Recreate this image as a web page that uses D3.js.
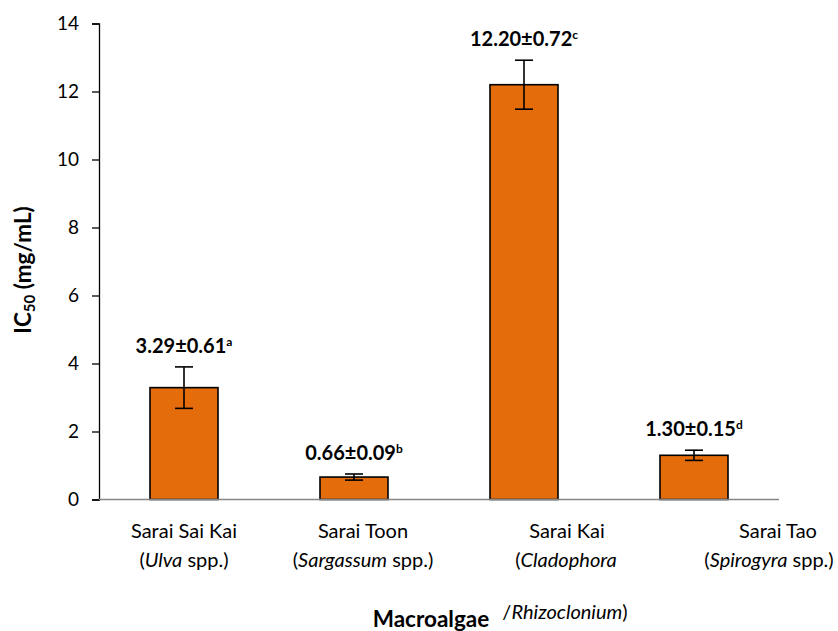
<!DOCTYPE html>
<html>
<head>
<meta charset="utf-8">
<script src="https://cdn.jsdelivr.net/npm/d3@7/dist/d3.min.js"></script>
<style>
  html, body { margin: 0; padding: 0; background: #fff; }
  svg { display: block; font-family: Lato, "Open Sans", sans-serif; }
</style>
</head>
<body>
<svg id="chart" width="838" height="631"></svg>
<script>
// IC50 of macroalgae extracts (mg/mL), mean ± SD
const categories = ["Sarai Sai Kai", "Sarai Toon", "Sarai Kai", "Sarai Tao"];
const ic50 = [3.29, 0.66, 12.20, 1.30];
const sd = [0.61, 0.09, 0.72, 0.15];
const letters = ["a", "b", "c", "d"];
// Second/third line of each category label: [text, italic?] segments
const speciesLines = [
  [[["(", false], ["Ulva", true], [" spp.)", false]]],
  [[["(", false], ["Sargassum", true], [" spp.)", false]]],
  [[["(", false], ["Cladophora", true]], [["/", false], ["Rhizoclonium", true], [")", false]]],
  [[["(", false], ["Spirogyra", true], [" spp.)", false]]]
];
const yTicks = [0, 2, 4, 6, 8, 10, 12, 14];

const svg = d3.select("#chart");
const plotLeft = 99, plotRight = 779, plotTop = 23.5, plotBottom = 499.5;

const x = d3.scaleBand().domain(categories).range([plotLeft, plotRight])
  .paddingInner(0.6).paddingOuter(0.3);
const y = d3.scaleLinear().domain([0, 14]).range([plotBottom, plotTop]);

// Label text boxes sit a little right of their bars
const labelNudge = [[0, 0], [9, 9], [43, 42, 41], [84, 75]];
const labelBaselines = [537.5, 566.5, 619];
const labelSize = 20;

// Bars
svg.append("g").selectAll("rect").data(ic50).join("rect")
  .attr("x", (d, i) => x(categories[i]))
  .attr("y", d => y(d))
  .attr("width", x.bandwidth())
  .attr("height", d => y(0) - y(d))
  .attr("fill", "#E46C0A")
  .attr("stroke", "#000")
  .attr("stroke-width", 1.6);

// Error bars
const err = svg.append("g").attr("stroke", "#000").attr("stroke-width", 1.6);
ic50.forEach((v, i) => {
  const cx = x(categories[i]) + x.bandwidth() / 2;
  const y1 = y(v + sd[i]), y2 = y(v - sd[i]);
  err.append("line").attr("x1", cx).attr("x2", cx).attr("y1", y1).attr("y2", y2);
  err.append("line").attr("x1", cx - 9).attr("x2", cx + 9).attr("y1", y1).attr("y2", y1);
  err.append("line").attr("x1", cx - 9).attr("x2", cx + 9).attr("y1", y2).attr("y2", y2);
});

// Value labels with significance letters
ic50.forEach((v, i) => {
  const cx = x(categories[i]) + x.bandwidth() / 2;
  const t = svg.append("text")
    .attr("x", cx).attr("y", y(v + sd[i]) - 14)
    .attr("text-anchor", "middle")
    .attr("font-weight", "bold").attr("font-size", 20).attr("fill", "#000");
  t.append("tspan").text(v.toFixed(2) + "±" + sd[i].toFixed(2));
  t.append("tspan").attr("font-size", 12).attr("dy", -7).text(letters[i]);
});

// Y axis
const yAxis = svg.append("g").attr("transform", `translate(${plotLeft},0)`)
  .call(d3.axisLeft(y).tickValues(yTicks).tickSize(7).tickPadding(13).tickFormat(d3.format("d")));
yAxis.select(".domain").attr("stroke", "#000").attr("stroke-width", 1.3);
yAxis.selectAll(".tick line").attr("stroke", "#000").attr("stroke-width", 1.3);
yAxis.selectAll(".tick text").attr("font-size", 19).attr("fill", "#000")
  .attr("font-family", "Lato, sans-serif");

// X axis baseline
svg.append("line").attr("x1", plotLeft).attr("x2", plotRight)
  .attr("y1", y(0)).attr("y2", y(0))
  .attr("stroke", "#878787").attr("stroke-width", 1.6);

// Category labels
categories.forEach((c, i) => {
  const cx = x(c) + x.bandwidth() / 2;
  svg.append("text").attr("x", cx + labelNudge[i][0]).attr("y", labelBaselines[0])
    .attr("text-anchor", "middle").attr("font-size", labelSize).attr("fill", "#000").text(c);
  speciesLines[i].forEach((segs, j) => {
    const t = svg.append("text").attr("x", cx + labelNudge[i][j + 1]).attr("y", labelBaselines[j + 1])
      .attr("text-anchor", "middle").attr("font-size", labelSize).attr("fill", "#000");
    segs.forEach(([s, it]) => t.append("tspan").attr("font-style", it ? "italic" : "normal").text(s));
  });
});

// Axis titles
svg.append("text").attr("x", 431).attr("y", 627)
  .attr("text-anchor", "middle").attr("font-weight", "bold").attr("font-size", 22.5)
  .attr("fill", "#000").text("Macroalgae");

const yt = svg.append("text")
  .attr("transform", "translate(31,270) rotate(-90)")
  .attr("text-anchor", "middle").attr("font-weight", "bold").attr("font-size", 22.5).attr("fill", "#000");
yt.append("tspan").text("IC");
yt.append("tspan").attr("font-size", 15).attr("dy", 4).text("50");
yt.append("tspan").attr("dy", -4).text(" (mg/mL)");
</script>
</body>
</html>
